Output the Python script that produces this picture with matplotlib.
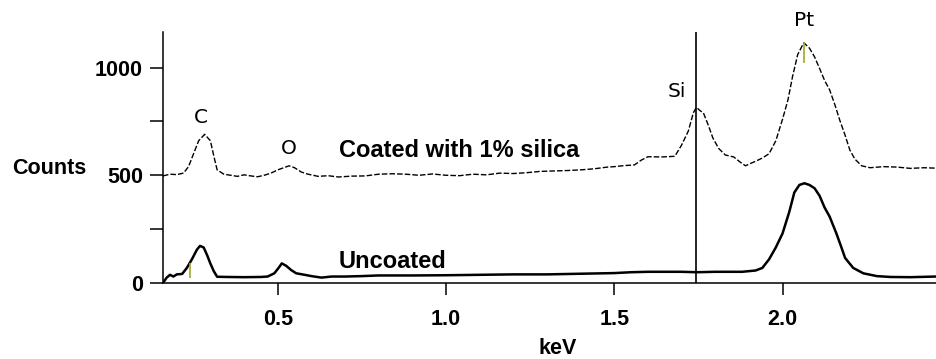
import matplotlib
matplotlib.use("Agg")
import matplotlib.pyplot as plt

plt.rcParams['font.family'] = ['Liberation Sans', 'DejaVu Sans']

# ── Spectrum data (keV, counts) ────────────────────────────────
coated_kev = [0.159, 0.18, 0.20, 0.22, 0.235, 0.25, 0.265, 0.283, 0.30, 0.31,
              0.32, 0.34, 0.36, 0.38, 0.40, 0.42, 0.44, 0.46, 0.48, 0.50,
              0.534, 0.55, 0.57, 0.59, 0.62, 0.65, 0.68, 0.72, 0.76, 0.80,
              0.84, 0.88, 0.92, 0.96, 1.00, 1.04, 1.08, 1.12, 1.16, 1.20,
              1.24, 1.28, 1.32, 1.36, 1.40, 1.44, 1.48, 1.50, 1.53, 1.56,
              1.58, 1.60, 1.64, 1.68, 1.70, 1.72, 1.735, 1.744, 1.755, 1.765,
              1.78, 1.793, 1.81, 1.83, 1.855, 1.875, 1.89, 1.905, 1.92, 1.94,
              1.96, 1.98, 2.00, 2.016, 2.03, 2.045, 2.063, 2.08, 2.095, 2.11,
              2.125, 2.14, 2.155, 2.17, 2.185, 2.20, 2.215, 2.235, 2.26, 2.30,
              2.34, 2.38, 2.42, 2.456]
coated_counts = [497, 505, 503, 510, 540, 600, 660, 690, 660, 590,
                 525, 505, 500, 495, 502, 497, 493, 500, 510, 525,
                 544, 535, 515, 505, 495, 498, 492, 496, 497, 505,
                 507, 505, 500, 506, 500, 498, 505, 502, 510, 508,
                 512, 518, 520, 522, 525, 530, 538, 540, 545, 548,
                 570, 586, 585, 588, 640, 705, 790, 815, 800, 789,
                 730, 673, 625, 594, 585, 560, 544, 555, 565, 580,
                 600, 660, 760, 849, 960, 1060, 1115, 1090, 1050, 996,
                 940, 896, 830, 756, 690, 617, 575, 544, 535, 540,
                 538, 532, 535, 533]

uncoated_kev = [0.159, 0.17, 0.18, 0.19, 0.20, 0.216, 0.23, 0.245, 0.26, 0.269,
                0.28, 0.29, 0.30, 0.31, 0.32, 0.35, 0.40, 0.45, 0.47, 0.49,
                0.505, 0.512, 0.525, 0.54, 0.555, 0.58, 0.60, 0.63, 0.66, 0.70,
                0.75, 0.80, 0.90, 1.00, 1.10, 1.20, 1.30, 1.40, 1.50, 1.55,
                1.60, 1.70, 1.745, 1.80, 1.88, 1.92, 1.94, 1.96, 1.98, 2.00,
                2.02, 2.035, 2.05, 2.065, 2.08, 2.095, 2.11, 2.125, 2.14, 2.16,
                2.175, 2.186, 2.21, 2.24, 2.28, 2.32, 2.38, 2.456]
uncoated_counts = [0, 25, 38, 30, 40, 42, 70, 110, 155, 172,
                   165, 130, 90, 55, 29, 28, 27, 28, 30, 45,
                   75, 91, 80, 60, 45, 38, 32, 25, 30, 30,
                   32, 35, 35, 36, 38, 40, 40, 43, 46, 50,
                   52, 52, 50, 52, 52, 58, 70, 110, 165, 230,
                   330, 420, 455, 463, 455, 440, 405, 350, 308, 230,
                   165, 116, 70, 45, 32, 28, 27, 30]

# element labels: (text, keV, counts)
peak_names = ['C', 'O', 'Si', 'Pt']
peak_kev = [0.272, 0.534, 1.685, 2.063]
peak_y = [766, 626, 891, 1216]

si_line_kev = 1.744
marker_kev = [0.238, 2.063]
marker_lo = [25, 1021]
marker_hi = [95, 1118]

x_ticks = [0.5, 1.0, 1.5, 2.0]
y_ticks = [0, 500, 1000]
y_minor = [250, 750]

fig = plt.figure(figsize=(9.36, 3.59), dpi=100)
ax = fig.add_axes([0.1741, 0.2117, 0.8259, 0.6992])

ax.plot(coated_kev, coated_counts, color='black', lw=1.0, dashes=(4, 1.5))
ax.plot(uncoated_kev, uncoated_counts, color='black', lw=1.8)
ax.vlines(marker_kev, marker_lo, marker_hi, color='#a5a52a', lw=1.2)
ax.axvline(si_line_kev, color='black', lw=1.2)

for name, xk, yk in zip(peak_names, peak_kev, peak_y):
    ax.text(xk, yk, name, ha='center', va='center', fontsize=14.5,
            family=['DejaVu Sans'], clip_on=False)

ax.text(0.682, 617, 'Coated with 1% silica', fontsize=17, fontweight='bold',
        va='center', ha='left')
ax.text(0.682, 102, 'Uncoated', fontsize=17, fontweight='bold',
        va='center', ha='left')

ax.set_xlim(0.159, 2.456)
ax.set_ylim(0, 1165)
ax.set_xticks(x_ticks)
ax.set_xticklabels([f'{t:.1f}' for t in x_ticks], fontweight='bold')
ax.set_yticks(y_ticks)
ax.set_yticklabels([str(t) for t in y_ticks], fontweight='bold')
ax.set_yticks(y_minor, minor=True)

ax.tick_params(axis='y', which='both', direction='out', length=9.4, width=1.1,
               labelsize=15.5, pad=5)
ax.tick_params(axis='x', direction='out', length=8.6, width=1.1,
               labelsize=15.5, pad=10)

for side in ['top', 'right']:
    ax.spines[side].set_visible(False)
for side in ['left', 'bottom']:
    ax.spines[side].set_linewidth(1.1)

fig.text(49 / 936, 1 - 168 / 359, 'Counts', fontsize=15.5, fontweight='bold',
         ha='center', va='center')
fig.text(558 / 936, 1 - 348 / 359, 'keV', fontsize=15.5, fontweight='bold',
         ha='center', va='center')

fig.savefig('out.png', dpi=100)
